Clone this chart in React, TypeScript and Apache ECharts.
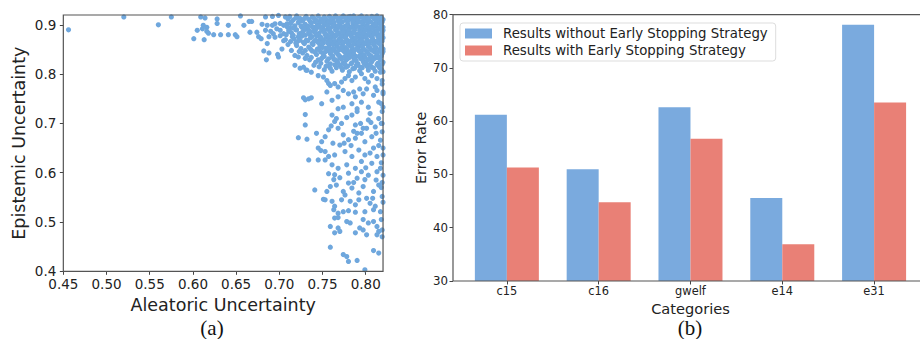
import React, { useEffect, useRef } from "react";
import * as echarts from "echarts";

// ---------- Panel (a): scatter, values in thousandths ----------
const xTicksA = [0.45, 0.5, 0.55, 0.6, 0.65, 0.7, 0.75, 0.8];
const yTicksA = [0.4, 0.5, 0.6, 0.7, 0.8, 0.9];

const scatterSparse: number[][] = [
  [456, 890], [520, 916], [560, 900], [575, 916],
  [601, 872], [605, 889], [609, 916], [611, 892], [612, 899], [613, 870], [614, 914], [616, 895], [616, 887],
  [618, 883], [624, 880], [628, 912], [628, 903], [632, 880], [641, 899], [641, 880], [649, 880], [651, 876],
  [655, 918], [659, 899], [665, 907], [666, 885], [668, 907], [674, 885], [676, 876], [679, 872], [680, 901],
  [682, 847], [684, 916], [684, 889], [685, 829], [686, 899], [686, 862], [688, 876], [688, 843], [690, 887],
  [692, 917], [692, 899], [693, 882], [695, 902], [695, 875], [697, 892], [698, 840], [699, 919], [699, 835],
  [701, 903], [701, 889], [701, 878], [703, 851], [705, 899], [705, 882], [705, 868], [707, 916], [707, 870],
  [709, 902], [711, 887], [712, 893], [715, 876], [710, 860], [714, 848], [718, 838], [722, 835], [708, 880],
  [713, 866],
];

const scatterDense: number[][] = [
  [712, 917], [716, 910], [720, 918], [724, 913], [727, 908], [731, 917], [734, 911], [738, 916], [741, 907],
  [745, 918], [748, 912], [752, 916], [755, 909], [758, 917], [762, 913], [765, 918], [768, 908], [771, 914],
  [774, 918], [777, 910], [780, 916], [783, 912], [786, 918], [789, 909], [792, 915], [795, 918], [798, 911],
  [801, 916], [804, 908], [807, 917], [810, 912], [813, 918], [816, 909], [818, 915], [820, 911],
  [709, 896], [713, 903], [718, 898], [722, 905], [726, 895], [730, 901], [733, 897], [737, 904], [740, 895],
  [744, 900], [747, 905], [751, 897], [754, 902], [757, 895], [760, 904], [764, 899], [767, 894], [770, 902],
  [773, 906], [776, 897], [779, 901], [782, 895], [785, 904], [788, 899], [791, 906], [794, 896], [797, 902],
  [800, 898], [803, 905], [806, 895], [809, 901], [812, 897], [815, 904], [818, 899], [820, 895],
  [714, 884], [719, 890], [723, 882], [728, 888], [732, 892], [735, 881], [739, 887], [743, 893], [746, 883],
  [749, 889], [753, 881], [756, 891], [759, 886], [762, 880], [766, 890], [769, 884], [772, 892], [775, 881],
  [778, 887], [781, 893], [784, 883], [787, 889], [790, 881], [793, 891], [796, 885], [799, 880], [802, 889],
  [805, 893], [808, 883], [811, 888], [814, 881], [817, 891], [819, 885],
  [717, 872], [721, 866], [726, 877], [731, 869], [736, 874], [740, 866], [743, 878], [747, 871], [750, 866],
  [754, 876], [757, 869], [760, 874], [763, 866], [766, 879], [769, 871], [772, 867], [775, 876], [778, 870],
  [781, 865], [784, 875], [787, 868], [790, 878], [793, 871], [796, 866], [799, 875], [802, 869], [805, 878],
  [808, 872], [811, 866], [814, 876], [817, 870], [820, 874],
  [720, 858], [725, 852], [729, 862], [734, 855], [739, 860], [744, 851], [747, 857], [751, 863], [754, 853],
  [758, 859], [761, 850], [764, 862], [767, 856], [770, 851], [773, 860], [776, 854], [779, 863], [782, 857],
  [785, 851], [788, 861], [791, 855], [794, 859], [797, 852], [800, 862], [803, 856], [806, 850], [809, 860],
  [812, 854], [815, 863], [818, 857], [820, 851],
  [727, 843], [732, 838], [738, 847], [743, 840], [748, 845], [752, 836], [756, 848], [759, 842], [762, 837],
  [765, 846], [768, 840], [771, 835], [774, 848], [777, 843], [780, 838], [783, 846], [786, 841], [789, 836],
  [792, 848], [795, 843], [798, 838], [801, 846], [804, 840], [807, 835], [810, 845], [813, 839], [816, 847],
  [819, 842],
  [735, 829], [742, 824], [749, 832], [755, 826], [759, 821], [763, 830], [767, 825], [770, 833], [774, 822],
  [777, 828], [781, 834], [784, 823], [787, 829], [791, 821], [794, 832], [797, 826], [800, 821], [804, 831],
  [807, 825], [811, 833], [814, 822], [817, 829], [820, 824],
  [724, 812], [731, 808], [746, 815], [752, 809], [757, 817], [761, 806], [766, 813], [770, 818], [773, 808],
  [777, 814], [781, 805], [785, 811], [789, 817], [793, 807], [796, 813], [800, 819], [803, 808], [807, 814],
  [811, 806], [815, 816], [818, 810], [820, 805],
];

const scatterDenseFill: number[][] = [
  [710, 912], [714, 906], [719, 914], [723, 908], [729, 913], [736, 906], [740, 914], [743, 909], [750, 906],
  [753, 913], [757, 905], [760, 911], [763, 906], [767, 914], [770, 909], [776, 915], [779, 907], [782, 917],
  [785, 908], [788, 914], [791, 910], [794, 906], [797, 914], [800, 908], [803, 913], [806, 906], [809, 915],
  [812, 908], [815, 913], [819, 906],
  [711, 890], [716, 894], [720, 890], [725, 898], [729, 893], [734, 889], [738, 896], [742, 891], [746, 897],
  [749, 892], [752, 889], [756, 898], [759, 893], [762, 897], [765, 890], [768, 898], [772, 896], [775, 891],
  [778, 897], [781, 889], [784, 896], [787, 893], [790, 897], [793, 888], [796, 893], [799, 889], [802, 896],
  [805, 888], [808, 893], [811, 899], [814, 891], [817, 896], [820, 889],
  [716, 879], [722, 876], [726, 884], [730, 879], [734, 885], [738, 876], [742, 883], [745, 879], [748, 875],
  [752, 885], [755, 880], [758, 876], [761, 883], [764, 876], [767, 882], [771, 878], [774, 885], [777, 877],
  [780, 882], [783, 878], [786, 884], [789, 875], [792, 880], [795, 876], [798, 884], [801, 878], [804, 883],
  [807, 876], [810, 881], [813, 885], [816, 877], [819, 880],
  [719, 863], [724, 869], [728, 864], [733, 868], [738, 862], [742, 869], [745, 864], [749, 860], [752, 870],
  [756, 863], [759, 867], [762, 860], [765, 866], [768, 862], [771, 870], [774, 864], [777, 867], [780, 860],
  [783, 868], [786, 862], [789, 866], [792, 863], [795, 869], [798, 861], [801, 866], [804, 862], [807, 868],
  [810, 861], [813, 867], [816, 862], [819, 867],
  [723, 846], [730, 848], [736, 851], [741, 845], [746, 849], [750, 854], [753, 845], [757, 853], [760, 846],
  [763, 852], [766, 844], [769, 849], [772, 854], [775, 846], [778, 851], [781, 845], [784, 855], [787, 848],
  [790, 852], [793, 846], [796, 855], [799, 849], [802, 844], [805, 853], [808, 848], [811, 852], [814, 845],
  [817, 851], [820, 846],
  [730, 832], [737, 834], [745, 829], [751, 838], [757, 831], [761, 836], [765, 829], [769, 838], [772, 830],
  [776, 836], [779, 831], [782, 838], [786, 833], [789, 827], [793, 837], [796, 830], [799, 835], [802, 828],
  [806, 837], [809, 830], [812, 836], [815, 833], [818, 837],
  [740, 818], [748, 822], [754, 816], [759, 812], [764, 819], [768, 822], [772, 813], [776, 820], [779, 816],
  [783, 821], [787, 812], [790, 819], [794, 814], [798, 822], [802, 815], [805, 820], [809, 812], [813, 819],
  [816, 813], [819, 820],
];

const scatterTail: number[][] = [
  [718, 818], [728, 814], [732, 808], [737, 804], [745, 797], [751, 794], [755, 787], [757, 781], [759, 777],
  [764, 781], [768, 774], [772, 784], [776, 791], [780, 797], [784, 787], [788, 794], [795, 801], [799, 791],
  [803, 784], [807, 797], [813, 791], [819, 787], [817, 804], [811, 774], [801, 770], [793, 770], [786, 764],
  [780, 760], [774, 767], [768, 754], [761, 747], [755, 764], [749, 740], [734, 750], [730, 748], [788, 754],
  [784, 740], [797, 760], [795, 743], [809, 757], [813, 767], [820, 764], [815, 743], [803, 733], [774, 733],
  [768, 730], [790, 730], [820, 733],
  [730, 718], [730, 697], [722, 671], [732, 668], [743, 680], [745, 650], [749, 663], [753, 673], [757, 687],
  [761, 717], [764, 704], [766, 710], [768, 690], [770, 656], [764, 636], [774, 677], [776, 643], [780, 667],
  [784, 717], [788, 697], [790, 724], [788, 670], [792, 646], [795, 680], [799, 663], [801, 690], [803, 707],
  [807, 673], [809, 650], [811, 693], [815, 710], [817, 666], [819, 683], [820, 636], [813, 633], [799, 636],
  [784, 633], [757, 633], [753, 643], [805, 720], [819, 724],
  [760, 695], [772, 700], [778, 712], [786, 684], [794, 700], [806, 702], [812, 680], [818, 700], [783, 655],
  [797, 690], [775, 660], [762, 660], [748, 645], [790, 680], [815, 655], [805, 640],
  [734, 626], [753, 626], [761, 616], [768, 609], [764, 596], [763, 586], [759, 572], [755, 562], [741, 565],
  [753, 545], [761, 542], [764, 532], [778, 616], [780, 599], [780, 579], [784, 569], [788, 609], [790, 589],
  [795, 602], [799, 586], [797, 572], [792, 559], [776, 555], [782, 542], [788, 535], [801, 548], [805, 538],
  [809, 562], [813, 602], [815, 575], [817, 609], [819, 552], [811, 532], [774, 562], [745, 626], [795, 623],
  [807, 619], [770, 590], [786, 580], [803, 595], [812, 585], [818, 570], [766, 575], [792, 545], [808, 548],
  [772, 545], [757, 598], [820, 595], [800, 610],
  [763, 525], [768, 518], [774, 521], [780, 523], [788, 520], [799, 521], [809, 525], [817, 521], [764, 508],
  [768, 509], [778, 501], [782, 498], [797, 505], [803, 498], [809, 501], [813, 491], [815, 481], [819, 484],
  [813, 474], [759, 491], [768, 488], [764, 478], [770, 481], [788, 478], [793, 488], [797, 484], [801, 474],
  [759, 449], [774, 434], [778, 430], [780, 420], [790, 422], [809, 442], [815, 437], [799, 403],
  [819, 470], [818, 505], [820, 540], [819, 580], [818, 620], [820, 650], [819, 700], [818, 740], [820, 760],
  [819, 780], [751, 546], [728, 752], [737, 752],
];

// ---------- Panel (b): grouped bars ----------
const categories = ["c15", "c16", "gwelf", "e14", "e31"];
const seriesNames = [
  "Results without Early Stopping Strategy",
  "Results with Early Stopping Strategy",
];
const withoutEarlyStopping = [61.2, 51.0, 62.6, 45.6, 78.1];
const withEarlyStopping = [51.3, 44.8, 56.7, 36.9, 63.5];

const FONT = "DejaVu Sans";
const TXT = "#222";
const SPINE = "#555";

export default function App() {
  const ref = useRef<HTMLDivElement>(null);

  useEffect(() => {
    document.body.style.margin = "0";
    if (!ref.current) return;
    const chart = echarts.init(ref.current, null, { renderer: "svg" });
    const points = [...scatterSparse, ...scatterDense, ...scatterDenseFill, ...scatterTail].map(([x, y]) => [
      x / 1000,
      y / 1000,
    ]);

    const gA = { left: 63.33, top: 15, width: 319.7, height: 256.3 };
    const gB = { left: 460.96, top: 14.67, width: 463.4, height: 266.33 };

    chart.setOption({
      animation: false,
      backgroundColor: "#fff",
      grid: [gA, gB],
      xAxis: [
        {
          gridIndex: 0,
          type: "value",
          min: 0.45,
          max: 0.82,
          axisLine: { show: false },
          splitLine: { show: false },
          axisTick: { show: true, length: 3.5, lineStyle: { color: "#444" }, customValues: xTicksA },
          axisLabel: {
            customValues: xTicksA,
            formatter: (v: number) => v.toFixed(2),
            margin: 6,
            fontSize: 13.5,
            color: TXT,
            fontFamily: FONT,
          },
          name: "Aleatoric Uncertainty",
          nameLocation: "middle",
          nameGap: 22,
          nameTextStyle: { fontSize: 17.5, color: TXT, fontFamily: FONT },
        },
        {
          gridIndex: 1,
          type: "category",
          data: categories,
          axisLine: { show: false },
          axisTick: { show: true, alignWithLabel: true, length: 3.5, lineStyle: { color: "#444" } },
          axisLabel: { margin: 4, fontSize: 11.4, color: TXT, fontFamily: FONT },
          name: "Categories",
          nameLocation: "middle",
          nameGap: 18,
          nameTextStyle: { fontSize: 14.6, color: TXT, fontFamily: FONT },
        },
      ],
      yAxis: [
        {
          gridIndex: 0,
          type: "value",
          min: 0.4,
          max: 0.92,
          axisLine: { show: false },
          splitLine: { show: false },
          axisTick: { show: true, length: 3.5, lineStyle: { color: "#444" }, customValues: yTicksA },
          axisLabel: {
            customValues: yTicksA,
            formatter: (v: number) => v.toFixed(1),
            margin: 7,
            fontSize: 13.5,
            color: TXT,
            fontFamily: FONT,
          },
          name: "Epistemic Uncertainty",
          nameLocation: "middle",
          nameGap: 35,
          nameTextStyle: { fontSize: 17.5, color: TXT, fontFamily: FONT },
        },
        {
          gridIndex: 1,
          type: "value",
          min: 30,
          max: 80,
          interval: 10,
          offset: 7.96,
          axisLine: { show: false },
          splitLine: { show: false },
          axisTick: { show: true, length: 3.5, lineStyle: { color: "#444" } },
          axisLabel: { margin: 5, fontSize: 11.8, color: TXT, fontFamily: FONT },
          name: "Error Rate",
          nameLocation: "middle",
          nameGap: 25,
          nameTextStyle: { fontSize: 14.3, color: TXT, fontFamily: FONT },
        },
      ],
      legend: {
        data: seriesNames,
        orient: "vertical",
        left: 460,
        top: 23,
        icon: "rect",
        itemWidth: 27,
        itemHeight: 10,
        itemGap: 4,
        padding: [4, 8, 4, 5],
        borderColor: "#ddd",
        borderWidth: 1,
        borderRadius: 3,
        backgroundColor: "rgba(255,255,255,0.8)",
        textStyle: { fontSize: 13.3, color: TXT, fontFamily: FONT, padding: [0, 0, 0, 6] },
      },
      series: [
        {
          type: "scatter",
          name: "points",
          xAxisIndex: 0,
          yAxisIndex: 0,
          data: points,
          symbolSize: 5.2,
          clip: true,
          itemStyle: { color: "#6fa7dd", opacity: 1 },
        },
        {
          type: "bar",
          name: seriesNames[0],
          xAxisIndex: 1,
          yAxisIndex: 1,
          data: withoutEarlyStopping,
          barWidth: 32,
          barGap: "0%",
          itemStyle: { color: "#7aaade" },
        },
        {
          type: "bar",
          name: seriesNames[1],
          xAxisIndex: 1,
          yAxisIndex: 1,
          data: withEarlyStopping,
          barWidth: 32,
          barGap: "0%",
          itemStyle: { color: "#e98076" },
        },
      ],
      graphic: [
        {
          type: "rect",
          z: 100,
          shape: { x: gA.left, y: gA.top, width: gA.width, height: gA.height },
          style: { fill: "none", stroke: SPINE, lineWidth: 1.2 },
        },
        {
          type: "rect",
          z: 100,
          shape: { x: 453, y: gB.top, width: 480, height: gB.height },
          style: { fill: "none", stroke: SPINE, lineWidth: 1.2 },
        },
        {
          type: "text",
          x: 212,
          y: 328,
          style: {
            text: "(a)",
            fontSize: 21,
            fontFamily: "Liberation Serif",
            fill: "#111",
            align: "center",
            verticalAlign: "middle",
          },
        },
        {
          type: "text",
          x: 690,
          y: 328,
          style: {
            text: "(b)",
            fontSize: 21,
            fontFamily: "Liberation Serif",
            fill: "#111",
            align: "center",
            verticalAlign: "middle",
          },
        },
      ],
    });

    return () => chart.dispose();
  }, []);

  return <div ref={ref} style={{ width: 920, height: 339 }} />;
}
